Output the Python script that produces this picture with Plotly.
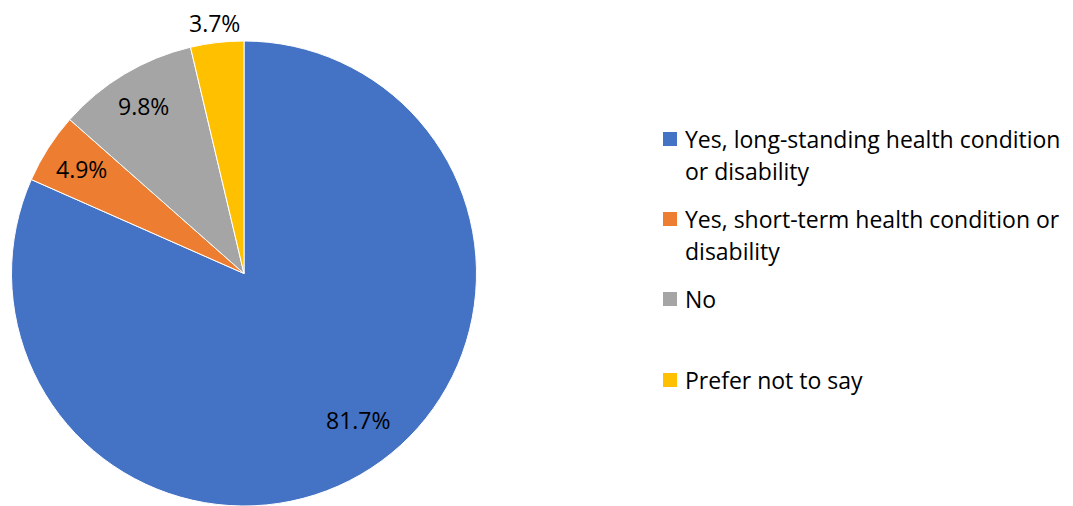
import math
import plotly.graph_objects as go

# Survey responses: health condition or disability
labels = [
    "Yes, long-standing health condition<br>or disability",
    "Yes, short-term health condition or<br>disability",
    "No",
    "Prefer not to say",
]
values = [81.7, 4.9, 9.8, 3.7]
colors = ["#4472C4", "#ED7D31", "#A5A5A5", "#FFC000"]
# radial position of each percentage label, as a fraction of the radius,
# and a small angular nudge (degrees) away from the slice bisector
label_radius = [0.80, 0.83, 0.84, 1.085]
label_nudge = [-5, 0, 0, 0]

W, H = 1073, 506
# pie box in pixels (left, right, top, bottom)
px_left, px_right, px_top, px_bottom = 10, 478, 41, 506
FONT = "Open Sans"

fig = go.Figure()
fig.add_trace(go.Pie(
    labels=[l.replace("<br>", " ") for l in labels],
    values=values,
    marker=dict(colors=colors, line=dict(color="white", width=1)),
    sort=False,
    direction="clockwise",
    rotation=0,
    textinfo="none",
    hoverinfo="label+percent",
    showlegend=False,
    domain=dict(x=[px_left / W, px_right / W], y=[1 - px_bottom / H, 1 - px_top / H]),
))

# percentage labels placed along each slice's bisector
cx = (px_left + px_right) / 2
cy = (px_top + px_bottom) / 2
R = min(px_right - px_left, px_bottom - px_top) / 2
total = sum(values)
start = 0.0
annotations = []
for v, f, nudge in zip(values, label_radius, label_nudge):
    mid = (start + v / 2) / total * 2 * math.pi + math.radians(nudge)
    start += v
    x = cx + f * R * math.sin(mid)
    y = cy - f * R * math.cos(mid)
    annotations.append(dict(
        x=x / W, y=1 - y / H, xref="paper", yref="paper",
        text=f"{v:.1f}%", showarrow=False,
        xanchor="center", yanchor="middle",
        font=dict(family=FONT, size=23, color="#000000"),
    ))

# legend: colour square plus wrapped label text
shapes = []
legend_first_line = [139, 219, 299, 380]
line_gap = 32
for lab, col, y0 in zip(labels, colors, legend_first_line):
    shapes.append(dict(
        type="rect", xref="paper", yref="paper",
        x0=663 / W, x1=677 / W, y0=1 - (y0 + 7) / H, y1=1 - (y0 - 7) / H,
        fillcolor=col, line=dict(width=0),
    ))
    for i, part in enumerate(lab.split("<br>")):
        annotations.append(dict(
            x=683 / W, y=1 - (y0 + i * line_gap) / H, xref="paper", yref="paper",
            text=part, showarrow=False, xanchor="left", yanchor="middle",
            font=dict(family=FONT, size=23, color="#000000"),
        ))

fig.update_layout(
    width=W, height=H,
    margin=dict(l=0, r=0, t=0, b=0),
    paper_bgcolor="white", plot_bgcolor="white",
    annotations=annotations, shapes=shapes,
)

fig.write_html("out.html")
